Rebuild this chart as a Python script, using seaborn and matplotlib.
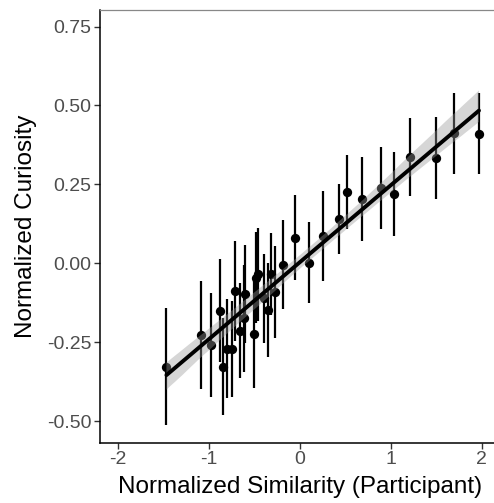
import numpy as np
import pandas as pd
import matplotlib
matplotlib.use("Agg")
import matplotlib.pyplot as plt
import seaborn as sns

# Data
similarity = [-1.469, -1.085, -0.975, -0.884, -0.848, -0.804, -0.749, -0.711,
              -0.656, -0.601, -0.620, -0.510, -0.466, -0.486, -0.400, -0.352,
              -0.315, -0.279, -0.191, -0.059, 0.105, 0.256, 0.432, 0.516,
              0.688, 0.893, 1.040, 1.212, 1.498, 1.696, 1.970]
curiosity = [-0.327, -0.227, -0.259, -0.150, -0.328, -0.271, -0.271, -0.088,
             -0.213, -0.097, -0.174, -0.225, -0.035, -0.045, -0.111, -0.148,
             -0.034, -0.090, -0.005, 0.081, 0.002, 0.086, 0.140, 0.226,
             0.204, 0.239, 0.219, 0.336, 0.334, 0.412, 0.410]
error = [0.185, 0.171, 0.166, 0.163, 0.154, 0.157, 0.151, 0.158,
         0.150, 0.155, 0.170, 0.170, 0.147, 0.145, 0.140, 0.150,
         0.130, 0.146, 0.141, 0.135, 0.128, 0.142, 0.112, 0.117,
         0.133, 0.130, 0.133, 0.123, 0.130, 0.128, 0.128]

x_ticks = [-2, -1, 0, 1, 2]
x_tick_labels = ["-2", "-1", "0", "1", "2"]
y_ticks = [-0.5, -0.25, 0.0, 0.25, 0.5, 0.75]
y_tick_labels = ["-0.50", "-0.25", "0.00", "0.25", "0.50", "0.75"]

sns.set_theme(style="ticks")
plt.rcParams["font.family"] = ["Liberation Sans", "DejaVu Sans"]
plt.rcParams["axes.unicode_minus"] = False

df = pd.DataFrame({"sim": similarity, "cur": curiosity, "err": error})

fig = plt.figure(figsize=(4.94, 5.03), dpi=100)
ax = fig.add_axes([100 / 494, 60 / 503, 394 / 494, 433 / 503])

ax.errorbar(df["sim"], df["cur"], yerr=df["err"], fmt="none",
            ecolor="black", elinewidth=1.6, capsize=0, zorder=2)
sns.scatterplot(data=df, x="sim", y="cur", color="black", s=45,
                linewidth=0, ax=ax, zorder=3)
sns.regplot(data=df, x="sim", y="cur", scatter=False, ci=95, n_boot=1000,
            seed=1, color="#999999", truncate=True,
            line_kws=dict(color="black", lw=2.8, zorder=5), ax=ax)

# restyle the confidence band like ggplot's geom_smooth
band = ax.collections[-1]
band.set_facecolor("#999999")
band.set_alpha(0.4)
band.set_edgecolor("none")
band.set_zorder(4)

ax.set_xlim(-2.2, (494 - 299.7) / 91)
ax.set_ylim((263.3 - 443) / 315.7, (263.3 - 10) / 315.7)
ax.set_xticks(x_ticks)
ax.set_xticklabels(x_tick_labels)
ax.set_yticks(y_ticks)
ax.set_yticklabels(y_tick_labels)

ax.spines["right"].set_visible(False)
ax.spines["top"].set_color("#888888")
ax.spines["top"].set_linewidth(0.9)
for s in ["left", "bottom"]:
    ax.spines[s].set_color("black")
    ax.spines[s].set_linewidth(1.1)

ax.tick_params(axis="both", length=4, width=1, color="#333333",
               labelcolor="#4d4d4d", labelsize=14, pad=2,
               bottom=True, left=True)

ax.set_xlabel("Normalized Similarity (Participant)", fontsize=17.5, color="black")
ax.set_ylabel("Normalized Curiosity", fontsize=17.5, color="black")
ax.xaxis.set_label_coords(0.508, -0.076)
ax.yaxis.set_label_coords(-0.16, 0.5)

fig.savefig("out.png", dpi=100)
